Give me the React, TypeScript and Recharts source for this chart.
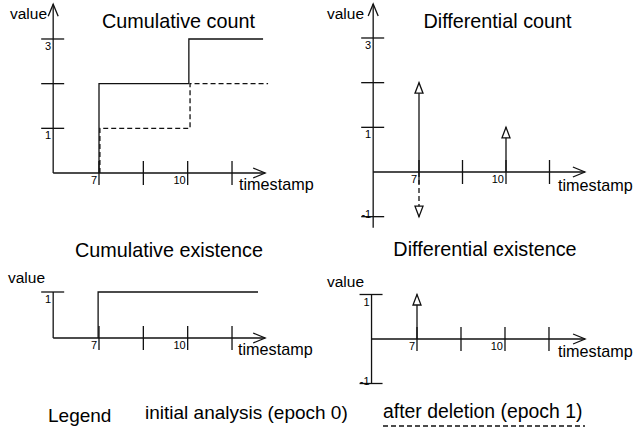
import React from "react";
import { LineChart, Line, XAxis, YAxis, ReferenceLine, ReferenceDot } from "recharts";

const INK = "#111";
const FONT = "'Liberation Sans', Arial, Helvetica, sans-serif";
const SW = 1.3;

// ticks on the timestamp axis (only 7 and 10 are labelled)
const timestampTicks = [7, 8.5, 10, 11.5];
const timestampLabels: Record<string, string> = { "7": "7", "10": "10" };

// value axis ticks per panel
const countTicks = [1, 2, 3];
const countLabels: Record<string, string> = { "1": "1", "3": "3" };
const countDiffTicks = [-1, 1, 2, 3];
const countDiffLabels: Record<string, string> = { "-1": "-1", "1": "1", "3": "3" };
const existTicks = [1];
const existLabels: Record<string, string> = { "1": "1" };
const existDiffTicks = [-1, 1];
const existDiffLabels: Record<string, string> = { "-1": "-1", "1": "1" };

// series (t = timestamp, v = value)
const cumulativeCountEpoch0 = [
  { t: 7, v: 0 },
  { t: 7, v: 2 },
  { t: 10.04, v: 3 },
  { t: 12.55, v: 3 },
];
const cumulativeCountEpoch1 = [
  { t: 7.03, v: 0 },
  { t: 7.03, v: 1 },
  { t: 10.08, v: 2 },
  { t: 12.72, v: 2 },
];
const differentialCountEpoch0 = [
  { t: 7, v: 2 },
  { t: 10, v: 1 },
];
const differentialCountEpoch1 = [{ t: 7, v: -1 }];
// existence: epoch 0 and epoch 1 coincide, so only one trace shows
const cumulativeExistence = [
  { t: 6.97, v: 0 },
  { t: 6.97, v: 1 },
  { t: 12.38, v: 1 },
];
const differentialExistence = [{ t: 7, v: 1 }];

const titles = ["Cumulative count", "Differential count", "Cumulative existence", "Differential existence"];
const yAxisName = "value";
const xAxisName = "timestamp";
const legendTitle = "Legend";
const seriesNames = ["initial analysis (epoch 0)", "after deletion (epoch 1)"];

type Pt = { t: number; v: number };
type Series = { data: Pt[]; dashed?: boolean };

interface PanelProps {
  id: string;
  box: { left: number; top: number; width: number; height: number };
  x7: number;
  sx: number;
  y0: number;
  sy: number;
  xDomain: [number, number];
  yDomain: [number, number];
  xEnd: number;
  yRange: [number, number];
  upArrow?: boolean;
  yTicks: number[];
  yLabels: Record<string, string>;
  steps?: Series[];
  arrows?: Series[];
}

const xTickShape = (label?: string) => (p: any) => (
  <g>
    <line x1={p.cx} y1={p.cy - 12} x2={p.cx} y2={p.cy + 12} stroke={INK} strokeWidth={SW} />
    {label && (
      <text x={p.cx - 2} y={p.cy + 11} textAnchor="end" fontSize={11} fontFamily={FONT} fill="#000">
        {label}
      </text>
    )}
  </g>
);

const yTickShape = (value: number, label?: string) => (p: any) => (
  <g>
    <line x1={p.cx - 12} y1={p.cy} x2={p.cx + 11} y2={p.cy} stroke={INK} strokeWidth={SW} />
    {label && (
      <text
        x={p.cx - 2}
        y={value < 0 ? p.cy + 1 : p.cy + 11}
        textAnchor="end"
        fontSize={11}
        fontFamily={FONT}
        fill="#000"
      >
        {label}
      </text>
    )}
  </g>
);

const rightChevron = (p: any) => (
  <path d={`M${p.cx - 12},${p.cy - 5} L${p.cx},${p.cy} L${p.cx - 12},${p.cy + 5}`} fill="none" stroke={INK} strokeWidth={SW} />
);
const upChevron = (p: any) => (
  <path d={`M${p.cx - 5},${p.cy + 12} L${p.cx},${p.cy} L${p.cx + 5},${p.cy + 12}`} fill="none" stroke={INK} strokeWidth={SW} />
);

const arrowHead = (props: any) => {
  const { cx, cy, index, payload } = props;
  if (index !== 1 || cx == null || cy == null) return <g key={`h${index}`} />;
  const dir = payload.v >= 0 ? 1 : -1;
  const base = cy + dir * 10.5;
  return (
    <path
      key={`h${index}`}
      d={`M${cx},${cy} L${cx - 4},${base} L${cx + 4},${base} Z`}
      fill="#fff"
      stroke={INK}
      strokeWidth={SW}
      strokeDasharray="none"
    />
  );
};

function Panel(p: PanelProps) {
  const px = (t: number) => p.x7 + (t - 7) * p.sx;
  const py = (v: number) => p.y0 - v * p.sy;
  const margin = {
    left: px(p.xDomain[0]) - p.box.left,
    right: p.box.left + p.box.width - px(p.xDomain[1]),
    top: py(p.yDomain[1]) - p.box.top,
    bottom: p.box.top + p.box.height - py(p.yDomain[0]),
  };
  const x0 = p.xDomain[0];
  const stems: { key: string; data: Pt[]; dashed?: boolean }[] = [];
  (p.arrows || []).forEach((s, i) =>
    s.data.forEach((d, j) => stems.push({ key: `${i}-${j}`, data: [{ t: d.t, v: 0 }, d], dashed: s.dashed }))
  );
  return (
    <div style={{ position: "absolute", left: p.box.left, top: p.box.top }}>
      <LineChart width={p.box.width} height={p.box.height} margin={margin}>
        <XAxis type="number" dataKey="t" domain={p.xDomain} hide />
        <YAxis type="number" dataKey="v" domain={p.yDomain} hide />
        <ReferenceLine
          segment={[{ x: x0, y: 0 }, { x: p.xEnd, y: 0 }]}
          stroke={INK}
          strokeWidth={SW}
          ifOverflow="visible"
        />
        <ReferenceLine
          segment={[{ x: x0, y: p.yRange[0] }, { x: x0, y: p.yRange[1] }]}
          stroke={INK}
          strokeWidth={SW}
          ifOverflow="visible"
        />
        <ReferenceDot x={p.xEnd} y={0} ifOverflow="visible" shape={rightChevron} />
        {p.upArrow && <ReferenceDot x={x0} y={p.yRange[1]} ifOverflow="visible" shape={upChevron} />}
        {timestampTicks.map((t) => (
          <ReferenceDot key={`xt${t}`} x={t} y={0} ifOverflow="visible" shape={xTickShape(timestampLabels[String(t)])} />
        ))}
        {p.yTicks.map((v) => (
          <ReferenceDot key={`yt${v}`} x={x0} y={v} ifOverflow="visible" shape={yTickShape(v, p.yLabels[String(v)])} />
        ))}
        {(p.steps || []).map((s, i) => (
          <Line
            key={`${p.id}-step${i}`}
            data={s.data}
            dataKey="v"
            type="stepAfter"
            stroke={INK}
            strokeWidth={SW}
            strokeDasharray={s.dashed ? "5 3" : undefined}
            dot={false}
            activeDot={false}
            isAnimationActive={false}
          />
        ))}
        {stems.map((s) => (
          <Line
            key={`${p.id}-arrow${s.key}`}
            data={s.data}
            dataKey="v"
            type="linear"
            stroke={INK}
            strokeWidth={SW}
            strokeDasharray={s.dashed ? "5 3" : undefined}
            dot={arrowHead}
            activeDot={false}
            isAnimationActive={false}
          />
        ))}
      </LineChart>
    </div>
  );
}

export default function App() {
  return (
    <div
      style={{
        position: "absolute",
        left: 0,
        top: 0,
        width: 633,
        height: 429,
        background: "#fff",
        overflow: "hidden",
        fontFamily: FONT,
      }}
    >
      <Panel
        id="cc"
        box={{ left: 0, top: 0, width: 316, height: 200 }}
        x7={99}
        sx={29.56}
        y0={173}
        sy={44.67}
        xDomain={[5.45, 12.8]}
        yDomain={[0, 3.8]}
        xEnd={12.62}
        yRange={[0, 3.78]}
        upArrow
        yTicks={countTicks}
        yLabels={countLabels}
        steps={[
          { data: cumulativeCountEpoch1, dashed: true },
          { data: cumulativeCountEpoch0 },
        ]}
      />
      <Panel
        id="dc"
        box={{ left: 318, top: 0, width: 315, height: 235 }}
        x7={419}
        sx={29}
        y0={172}
        sy={44.67}
        xDomain={[5.42, 12.8]}
        yDomain={[-1.3, 3.8]}
        xEnd={12.72}
        yRange={[-1.25, 3.76]}
        upArrow
        yTicks={countDiffTicks}
        yLabels={countDiffLabels}
        arrows={[
          { data: differentialCountEpoch1, dashed: true },
          { data: differentialCountEpoch0 },
        ]}
      />
      <Panel
        id="ce"
        box={{ left: 0, top: 275, width: 316, height: 85 }}
        x7={99}
        sx={29.56}
        y0={338}
        sy={46}
        xDomain={[5.45, 12.8]}
        yDomain={[0, 1]}
        xEnd={12.62}
        yRange={[0, 1]}
        yTicks={existTicks}
        yLabels={existLabels}
        steps={[{ data: cumulativeExistence }]}
      />
      <Panel
        id="de"
        box={{ left: 318, top: 275, width: 315, height: 115 }}
        x7={417}
        sx={29.33}
        y0={339}
        sy={44.5}
        xDomain={[5.45, 12.8]}
        yDomain={[-1, 1]}
        xEnd={12.73}
        yRange={[-1, 1]}
        yTicks={existDiffTicks}
        yLabels={existDiffLabels}
        arrows={[{ data: differentialExistence }]}
      />
      <svg
        width={633}
        height={429}
        style={{ position: "absolute", left: 0, top: 0, pointerEvents: "none" }}
        fontFamily={FONT}
        fill="#000"
      >
        <text x={178.5} y={28} fontSize={19.8} textAnchor="middle">{titles[0]}</text>
        <text x={497.5} y={28} fontSize={19.8} textAnchor="middle">{titles[1]}</text>
        <text x={169} y={257} fontSize={19.8} textAnchor="middle">{titles[2]}</text>
        <text x={485} y={256} fontSize={19.8} textAnchor="middle">{titles[3]}</text>

        <text x={10} y={19} fontSize={15.5}>{yAxisName}</text>
        <text x={327} y={19} fontSize={15.5}>{yAxisName}</text>
        <text x={8} y={283} fontSize={15.5}>{yAxisName}</text>
        <text x={327} y={287} fontSize={15.5}>{yAxisName}</text>

        <text x={239} y={190} fontSize={16.2}>{xAxisName}</text>
        <text x={558} y={191} fontSize={16.2}>{xAxisName}</text>
        <text x={238} y={355} fontSize={16.2}>{xAxisName}</text>
        <text x={558} y={357} fontSize={16.2}>{xAxisName}</text>

        <text x={48} y={422} fontSize={19}>{legendTitle}</text>
        <text x={145} y={419} fontSize={19}>{seriesNames[0]}</text>
        <text x={383} y={418} fontSize={19.4}>{seriesNames[1]}</text>
        <line x1={383} y1={426} x2={585} y2={426} stroke={INK} strokeWidth={SW} strokeDasharray="5 3" />
      </svg>
    </div>
  );
}
